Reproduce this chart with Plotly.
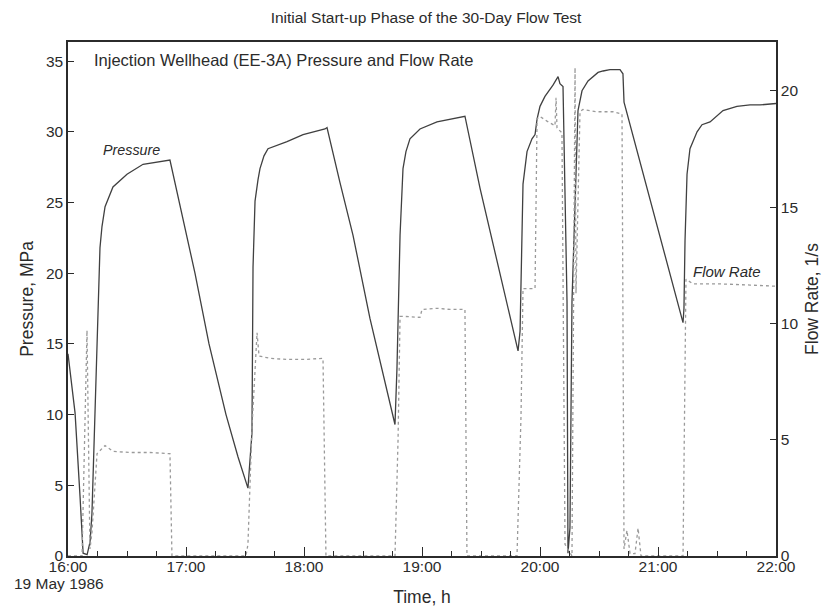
import plotly.graph_objects as go

# Clock time on 19 May 1986, decimal hours
pressure_time = [
    16.000, 16.060, 16.102, 16.128, 16.162, 16.187, 16.203, 16.229, 16.254, 16.271,
    16.288, 16.314, 16.381, 16.500, 16.636, 16.780, 16.864, 17.076, 17.195, 17.339,
    17.441, 17.525, 17.559, 17.568, 17.585, 17.610, 17.627, 17.661, 17.695, 17.856,
    17.992, 18.178, 18.195, 18.305, 18.415, 18.559, 18.703, 18.771, 18.788, 18.814,
    18.839, 18.864, 18.898, 18.983, 19.127, 19.263, 19.364, 19.492, 19.661, 19.814,
    19.831, 19.847, 19.856, 19.890, 19.932, 19.958, 19.975, 20.000, 20.042, 20.110,
    20.153, 20.169, 20.195, 20.229, 20.237, 20.254, 20.271, 20.322, 20.356, 20.407,
    20.492, 20.534, 20.593, 20.678, 20.703, 20.712, 21.017, 21.212, 21.220, 21.229,
    21.246, 21.271, 21.331, 21.373, 21.441, 21.551, 21.669, 21.780, 21.864, 22.000,
]
# Injection wellhead pressure, MPa
pressure_mpa = [
    14.3, 10.1, 4.2, 0.2, 0.1, 1.0, 3.0, 10.1, 17.1, 21.8,
    23.3, 24.7, 26.1, 27.0, 27.7, 27.9, 28.0, 20.0, 15.0, 10.0,
    7.0, 4.8, 8.7, 20.4, 25.1, 26.6, 27.4, 28.3, 28.8, 29.3,
    29.8, 30.2, 30.3, 26.4, 22.7, 16.8, 11.7, 9.3, 13.3, 22.7,
    27.4, 28.6, 29.5, 30.2, 30.7, 30.9, 31.1, 26.0, 20.0, 14.5,
    15.9, 22.3, 26.3, 28.6, 29.5, 29.8, 30.9, 31.8, 32.5, 33.3,
    33.9, 33.4, 33.2, 18.0, 0.2, 2.0, 18.0, 31.5, 32.9, 33.6,
    34.2, 34.3, 34.4, 34.4, 34.1, 32.1, 22.5, 16.5, 17.5, 22.3,
    27.0, 28.8, 30.0, 30.5, 30.7, 31.5, 31.8, 31.9, 31.9, 32.0,
]

flow_time = [
    16.000, 16.119, 16.161, 16.186, 16.203, 16.246, 16.314, 16.381, 16.525, 16.695,
    16.864, 16.881, 17.508, 17.525, 17.559, 17.602, 17.619, 17.712, 17.856, 18.008,
    18.161, 18.186, 18.771, 18.797, 18.814, 18.856, 18.983, 19.000, 19.127, 19.237,
    19.364, 19.381, 19.805, 19.839, 19.856, 19.958, 19.975, 20.000, 20.059, 20.127,
    20.136, 20.144, 20.186, 20.212, 20.271, 20.297, 20.305, 20.339, 20.364, 20.483,
    20.619, 20.695, 20.712, 20.737, 20.763, 20.805, 20.831, 20.856, 21.212, 21.237,
    21.297, 21.525, 21.780, 22.000,
]
# Injection flow rate, l/s
flow_rate = [
    0.0, 0.0, 9.7, 0.3, 1.0, 4.4, 4.75, 4.5, 4.45, 4.45,
    4.4, 0.0, 0.0, 0.5, 5.5, 9.6, 8.6, 8.5, 8.45, 8.45,
    8.5, 0.0, 0.0, 5.0, 10.3, 10.3, 10.26, 10.6, 10.65, 10.6,
    10.6, 0.0, 0.0, 6.0, 11.5, 11.5, 18.8, 18.9, 18.7, 18.5,
    19.7, 18.4, 18.2, 0.5, 0.0, 21.0, 11.3, 19.1, 19.2, 19.1,
    19.1, 19.0, 0.3, 1.1, 0.1, 0.1, 1.2, 0.0, 0.0, 11.9,
    11.7, 11.7, 11.65, 11.6,
]

hour_ticks = [16, 17, 18, 19, 20, 21, 22]
hour_labels = ["16:00", "17:00", "18:00", "19:00", "20:00", "21:00", "22:00"]
pressure_ticks = [0, 5, 10, 15, 20, 25, 30, 35]
flow_ticks = [0, 5, 10, 15, 20]

FONT = "Liberation Sans, Arial, sans-serif"
INK = "#2b2b2b"

fig = go.Figure()
fig.add_trace(go.Scatter(
    x=flow_time, y=flow_rate, mode="lines", yaxis="y2",
    line=dict(color="#9a9a9a", width=1.3, dash="dot"),
    name="Flow Rate", showlegend=False,
))
fig.add_trace(go.Scatter(
    x=pressure_time, y=pressure_mpa, mode="lines",
    line=dict(color="#404040", width=1.3),
    name="Pressure", showlegend=False,
))

axis_common = dict(
    showgrid=False, zeroline=False, showline=True, automargin=False,
    linecolor=INK, linewidth=1.5,
    tickfont=dict(family=FONT, size=15.5, color=INK),
    ticks="inside", tickcolor=INK, tickwidth=1.2,
)
title_font = dict(family=FONT, size=17.5, color=INK)

fig.update_layout(
    width=825, height=615,
    margin=dict(l=68, r=49, t=42, b=59, autoexpand=False),
    paper_bgcolor="white", plot_bgcolor="white",
    font=dict(family=FONT, color=INK),
    title=dict(
        text="Initial Start-up Phase of the 30-Day Flow Test",
        x=426 / 825, xanchor="center", y=1 - 18 / 615, yanchor="middle",
        font=dict(family=FONT, size=15.5, color=INK),
    ),
    xaxis=dict(
        **axis_common,
        range=[16, 22], tickvals=hour_ticks, ticktext=hour_labels,
        ticklen=9, mirror=True, ticklabelstandoff=-4,
        minor=dict(dtick=0.25, tick0=16, ticks="inside", ticklen=5,
                   tickcolor=INK, tickwidth=1),
        title=dict(text="Time, h", font=title_font, standoff=16),
    ),
    yaxis=dict(
        **axis_common,
        range=[0, 36.35], tickvals=pressure_ticks, ticklen=6,
        title=dict(text="Pressure, MPa", font=title_font, standoff=8),
    ),
    yaxis2=dict(
        **axis_common,
        range=[0, 22.1], tickvals=flow_ticks, ticklen=6,
        overlaying="y", side="right",
        title=dict(text="Flow Rate, 1/s", font=title_font, standoff=8),
    ),
)

fig.add_annotation(
    text="Injection Wellhead (EE-3A) Pressure and Flow Rate",
    xref="paper", yref="paper", x=24 / 708, y=1 - 18 / 514,
    xanchor="left", yanchor="middle", showarrow=False,
    font=dict(family=FONT, size=16.5, color=INK),
)
fig.add_annotation(
    text="<i>Pressure</i>", xref="x", yref="y", x=16.534, y=28.7,
    showarrow=False, font=dict(family=FONT, size=14.3, color=INK),
)
fig.add_annotation(
    text="<i>Flow Rate</i>", xref="x", yref="y", x=21.585, y=20.1,
    showarrow=False, font=dict(family=FONT, size=15, color=INK),
)
fig.add_annotation(
    text="19 May 1986", xref="paper", yref="paper",
    x=-56 / 708, y=-27 / 514, xanchor="left", yanchor="middle",
    showarrow=False, font=dict(family=FONT, size=15.5, color=INK),
)

fig.write_html("out.html")
